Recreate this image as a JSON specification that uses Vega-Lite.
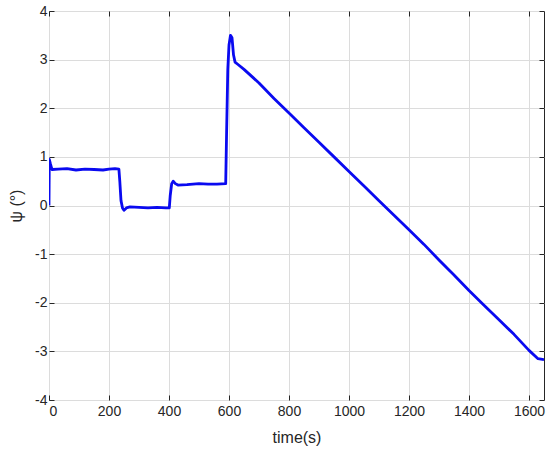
{
  "$schema": "https://vega.github.io/schema/vega-lite/v6.json",
  "width": 495,
  "height": 389,
  "autosize": {"type": "none"},
  "padding": {"left": 49, "top": 11, "right": 6, "bottom": 54},
  "background": "white",
  "config": {
    "view": {"stroke": "#262626", "strokeWidth": 1},
    "axis": {
      "labelFont": "Liberation Sans",
      "titleFont": "Liberation Sans",
      "labelFontSize": 14,
      "titleFontSize": 16,
      "labelColor": "#262626",
      "titleColor": "#262626",
      "titleFontWeight": "normal",
      "domain": false,
      "tickColor": "#262626",
      "tickSize": -5,
      "gridColor": "#dcdcdc",
      "gridWidth": 1,
      "labelExpr": "datum.value + ''"
    }
  },
  "data": {"values": [
    {"t": 0, "y": 0}, {"t": 1, "y": 0.95}, {"t": 5, "y": 0.85}, {"t": 10, "y": 0.74},
    {"t": 30, "y": 0.75}, {"t": 60, "y": 0.76}, {"t": 90, "y": 0.73}, {"t": 120, "y": 0.75},
    {"t": 150, "y": 0.74}, {"t": 180, "y": 0.73}, {"t": 200, "y": 0.75}, {"t": 220, "y": 0.76},
    {"t": 233, "y": 0.75}, {"t": 236, "y": 0.5}, {"t": 240, "y": 0.1}, {"t": 245, "y": -0.05},
    {"t": 250, "y": -0.1}, {"t": 258, "y": -0.05}, {"t": 270, "y": -0.03}, {"t": 300, "y": -0.04},
    {"t": 330, "y": -0.05}, {"t": 360, "y": -0.04}, {"t": 390, "y": -0.05}, {"t": 401, "y": -0.05},
    {"t": 404, "y": 0.2}, {"t": 409, "y": 0.45}, {"t": 414, "y": 0.5}, {"t": 421, "y": 0.45},
    {"t": 430, "y": 0.42}, {"t": 460, "y": 0.43}, {"t": 500, "y": 0.45}, {"t": 530, "y": 0.44},
    {"t": 560, "y": 0.44}, {"t": 589, "y": 0.45}, {"t": 592, "y": 1.5}, {"t": 596, "y": 2.8},
    {"t": 600, "y": 3.3}, {"t": 605, "y": 3.5}, {"t": 610, "y": 3.45}, {"t": 615, "y": 3.1},
    {"t": 620, "y": 2.95}, {"t": 630, "y": 2.9}, {"t": 650, "y": 2.8}, {"t": 700, "y": 2.52},
    {"t": 750, "y": 2.2}, {"t": 800, "y": 1.9}, {"t": 850, "y": 1.6}, {"t": 900, "y": 1.3},
    {"t": 950, "y": 1.0}, {"t": 1000, "y": 0.7}, {"t": 1050, "y": 0.4}, {"t": 1100, "y": 0.1},
    {"t": 1150, "y": -0.2}, {"t": 1200, "y": -0.5}, {"t": 1250, "y": -0.8}, {"t": 1300, "y": -1.12},
    {"t": 1350, "y": -1.43}, {"t": 1400, "y": -1.75}, {"t": 1450, "y": -2.05}, {"t": 1500, "y": -2.35},
    {"t": 1550, "y": -2.65}, {"t": 1600, "y": -2.98}, {"t": 1630, "y": -3.15}, {"t": 1650, "y": -3.17}
  ]},
  "layer": [
    {
      "mark": {"type": "line", "color": "#0a0af0", "strokeWidth": 2.8, "clip": true, "strokeJoin": "round"},
      "encoding": {
        "x": {"field": "t", "type": "quantitative",
              "scale": {"domain": [0, 1650], "nice": false},
              "axis": {"values": [0, 200, 400, 600, 800, 1000, 1200, 1400, 1600], "title": "time(s)", "labelPadding": 9, "titlePadding": 11}},
        "y": {"field": "y", "type": "quantitative",
              "scale": {"domain": [-4, 4], "nice": false},
              "axis": {"values": [-4, -3, -2, -1, 0, 1, 2, 3, 4], "title": "ψ (°)", "labelPadding": 7, "titlePadding": 10}}
      }
    },
    {
      "mark": {"type": "line", "opacity": 0},
      "encoding": {
        "x": {"field": "t", "type": "quantitative",
              "axis": {"orient": "top", "values": [0, 200, 400, 600, 800, 1000, 1200, 1400, 1600], "labels": false, "grid": false, "title": null}},
        "y": {"field": "y", "type": "quantitative",
              "axis": {"orient": "right", "values": [-4, -3, -2, -1, 0, 1, 2, 3, 4], "labels": false, "grid": false, "title": null}}
      }
    }
  ],
  "resolve": {"axis": {"x": "independent", "y": "independent"}}
}
